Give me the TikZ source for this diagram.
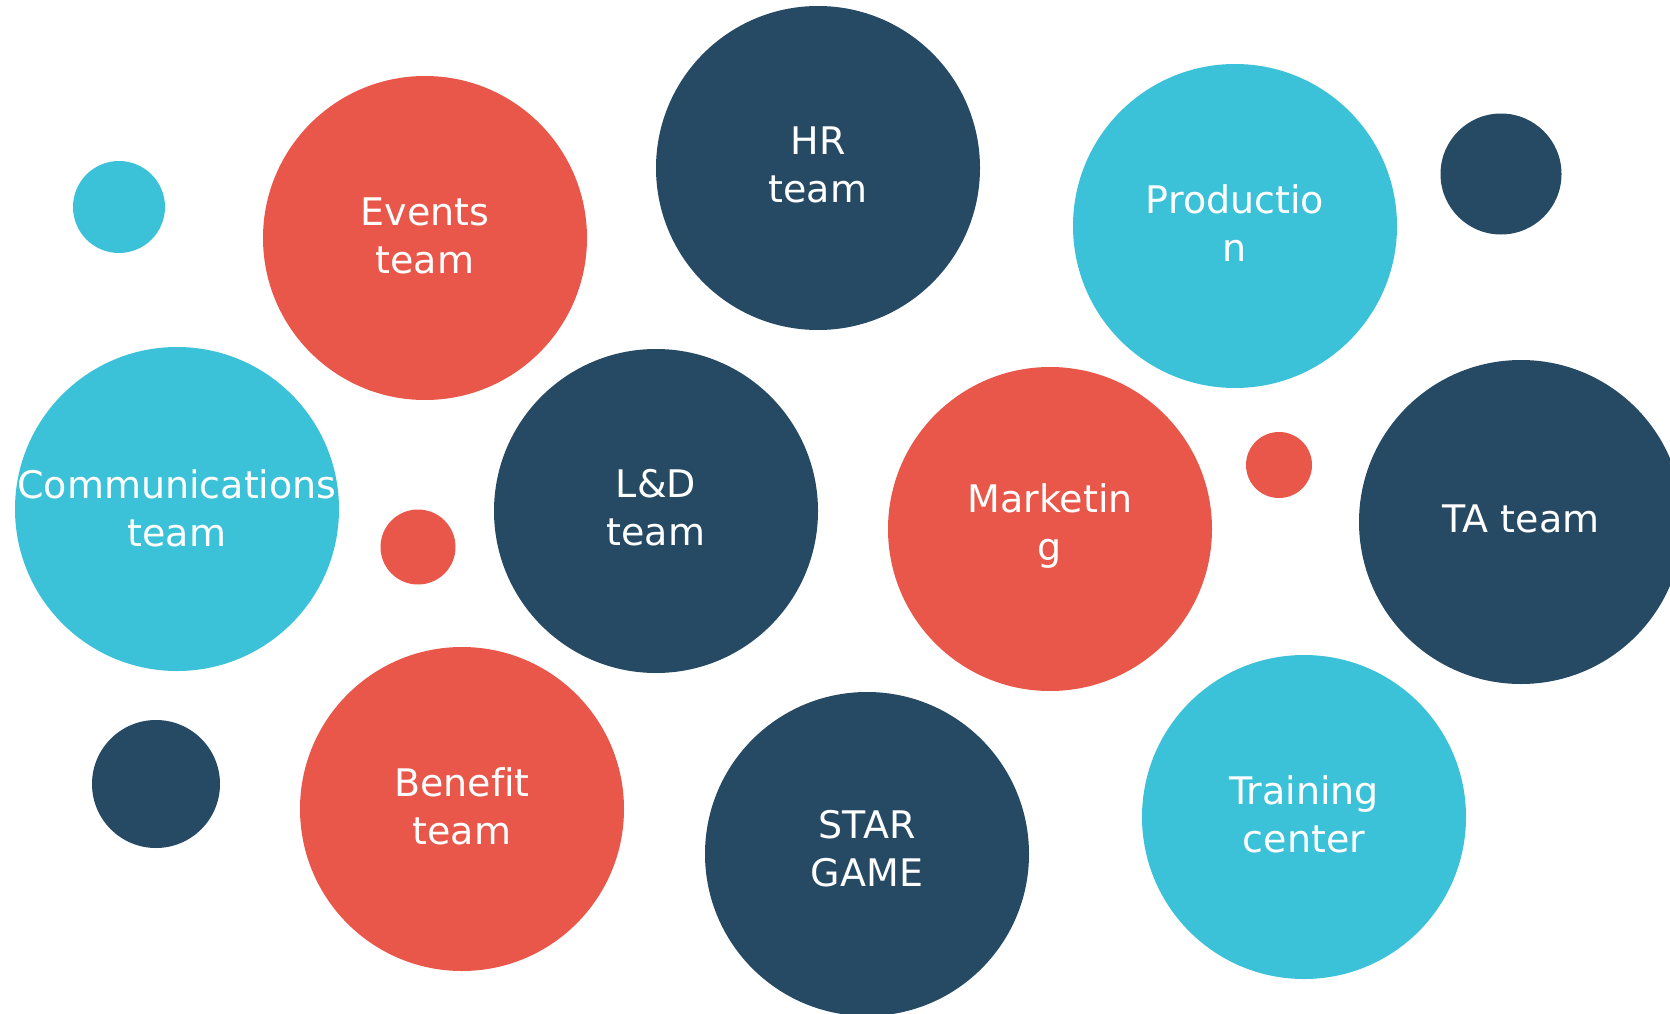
\documentclass[tikz,border=0pt]{standalone}
\usepackage{fontspec}
\setmainfont[Ligatures=NoCommon]{DejaVu Sans}
\definecolor{cred}{HTML}{E9574A}
\definecolor{cdark}{HTML}{264A64}
\definecolor{clight}{HTML}{3BC1D8}
\begin{document}
\begin{tikzpicture}[x=1pt,y=-1pt,
  bub/.style={circle,inner sep=0pt,draw=none},
  big/.style={bub,minimum size=324pt},
  lbl/.style={text=white,align=center,font=\fontsize{38}{48}\selectfont,inner sep=0pt}]
\useasboundingbox (0,0) rectangle (1670,1014);
\clip (0,0) rectangle (1670,1014);
% small circles
\node[bub,fill=clight,minimum size=92pt] (s1) at (119,207) {};
\node[bub,fill=cdark,minimum size=121pt] (s2) at (1501,174) {};
\node[bub,fill=cred,minimum size=75pt] (s3) at (418,547) {};
\node[bub,fill=cred,minimum size=66pt] (s4) at (1279,465) {};
\node[bub,fill=cdark,minimum size=128pt] (s5) at (156,784) {};
% big circles
\node[big,fill=cred] (events) at (425,238) {};
\node[big,fill=cdark] (hr) at (818,168) {};
\node[big,fill=clight] (prod) at (1235,226) {};
\node[big,fill=clight] (comm) at (177,509) {};
\node[big,fill=cdark] (ld) at (656,511) {};
\node[big,fill=cred] (mkt) at (1050,529) {};
\node[big,fill=cdark] (ta) at (1521,522) {};
\node[big,fill=cred] (ben) at (462,809) {};
\node[big,fill=cdark] (star) at (867,854) {};
\node[big,fill=clight] (train) at (1304,817) {};
% labels
\node[lbl] (tevents) at (425,236) {Events\\team};
\node[lbl] (thr) at (818,165) {HR\\team};
\node[lbl] (tprod) at (1235,223) {Productio\\n};
\node[lbl] (tcomm) at (177,508) {Communications\\team};
\node[lbl] (tld) at (656,508) {L\&D\\team};
\node[lbl] (tmkt) at (1050,526) {Marketin\\g};
\node[lbl] (tta) at (1521,519) {TA team};
\node[lbl] (tben) at (462,806) {Benefit\\team};
\node[lbl] (tstar) at (867,849) {STAR\\GAME};
\node[lbl] (ttrain) at (1304,814) {Training\\center};
\end{tikzpicture}
\end{document}
